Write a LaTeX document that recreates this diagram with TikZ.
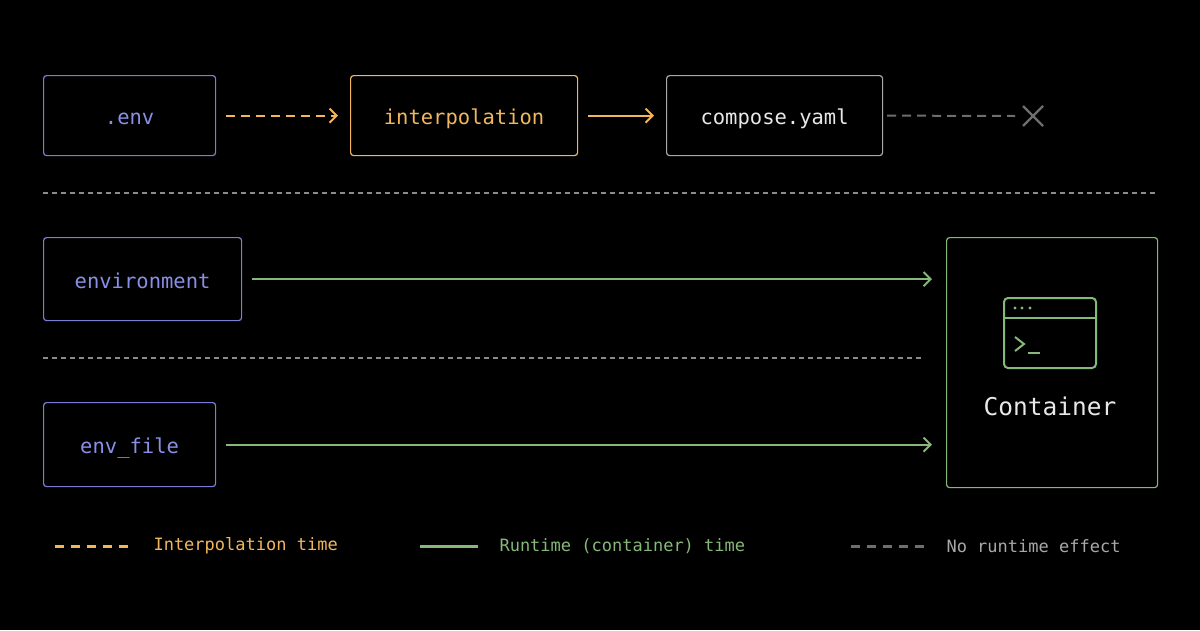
\documentclass[tikz,border=0pt]{standalone}
\usepackage{fontspec}
\setmonofont{DejaVu Sans Mono}
\usetikzlibrary{arrows.meta}
\definecolor{bl}{HTML}{7A7FD6}
\definecolor{blt}{HTML}{8A8FE6}
\definecolor{og}{HTML}{F2B75C}
\definecolor{gr}{HTML}{86B879}
\definecolor{gy}{HTML}{6E6E6E}
\definecolor{gyl}{HTML}{A8A8A8}
\definecolor{wt}{HTML}{E8E8E8}
\begin{document}
\begin{tikzpicture}[x=1pt,y=-1pt,
  box/.style={draw,rounded corners=3pt,line width=1.2pt,font=\ttfamily\fontsize{20.5}{24}\selectfont,anchor=north west,inner sep=0pt,text depth=0pt,text height=18pt},
  ar/.style={line width=2pt,-{Straight Barb[length=7pt,width=14pt,line width=2pt]}},
  dsh/.style={dash pattern=on 9pt off 6pt},
  leg/.style={font=\ttfamily\fontsize{17}{19}\selectfont,anchor=west}]
\fill[black] (0,0) rectangle (1200,630);
\useasboundingbox (0,0) rectangle (1200,630);
\node[box,draw=bl,text=blt,minimum width=172pt,minimum height=80pt] (env) at (43,75) {.env};
\node[box,draw=og,text=og,minimum width=227pt,minimum height=80pt] (interp) at (350,75) {interpolation};
\node[box,draw=gyl,text=wt,minimum width=216pt,minimum height=80pt] (comp) at (666,75) {compose.yaml};
\node[box,draw=bl,text=blt,minimum width=198pt,minimum height=83pt] (envi) at (43,237) {environment};
\node[box,draw=bl,text=blt,minimum width=172pt,minimum height=84pt] (envf) at (43,402) {env\_file};
\node[box,draw=gr,minimum width=211pt,minimum height=250pt] (cont) at (946,237) {};
\node[font=\ttfamily\fontsize{24.5}{28}\selectfont,text=wt] (ctext) at (1050,406) {Container};
\coordinate (x) at (1033,116);
\draw[og,ar,dsh] ([xshift=10pt]env.east) -- ([xshift=-12pt]interp.west);
\draw[og,ar] ([xshift=10pt]interp.east) -- ([xshift=-12pt]comp.west);
\draw[gy,line width=2pt,dsh] ([xshift=4pt]comp.east) -- ([xshift=-18pt]x);
\draw[gy,line width=2.2pt] ([shift={(-10,-10)}]x) -- ([shift={(10,10)}]x) ([shift={(-10,10)}]x) -- ([shift={(10,-10)}]x);
\draw[gy!80,line width=1.2pt,dash pattern=on 5pt off 4pt] (43,193) -- (1157,193);
\draw[gy!80,line width=1.2pt,dash pattern=on 5pt off 4pt] (43,358) -- (922,358);
\draw[gr,ar] ([xshift=10pt]envi.east) -- ([xshift=-14pt]cont.west |- envi.east);
\draw[gr,ar] ([xshift=10pt]envf.east) -- ([xshift=-14pt]cont.west |- envf.east);
% icon
\draw[gr,line width=2pt,rounded corners=4pt] (1004,298) rectangle (1096,368);
\draw[gr,line width=2pt] (1004,318) -- (1096,318);
\foreach \xx in {1015,1022,1030} \fill[gr] (\xx,308) circle (1.6pt);
\draw[gr,line width=2pt] (1015,337) -- (1024,344) -- (1015,351);
\draw[gr,line width=2pt] (1028,353) -- (1040,353);
% legend
\draw[og,line width=3pt,dash pattern=on 9pt off 7pt] (55,546) -- (135,546);
\node[leg,text=og] (l1) at (150,546) {Interpolation time};
\draw[gr,line width=3pt] (420,546) -- (478,546);
\node[leg,text=gr] (l2) at (496,546) {Runtime (container) time};
\draw[gy,line width=3pt,dash pattern=on 9pt off 7pt] (851,546) -- (929,546);
\node[leg,text=gyl] (l3) at (943,546) {No runtime effect};
\end{tikzpicture}
\end{document}
